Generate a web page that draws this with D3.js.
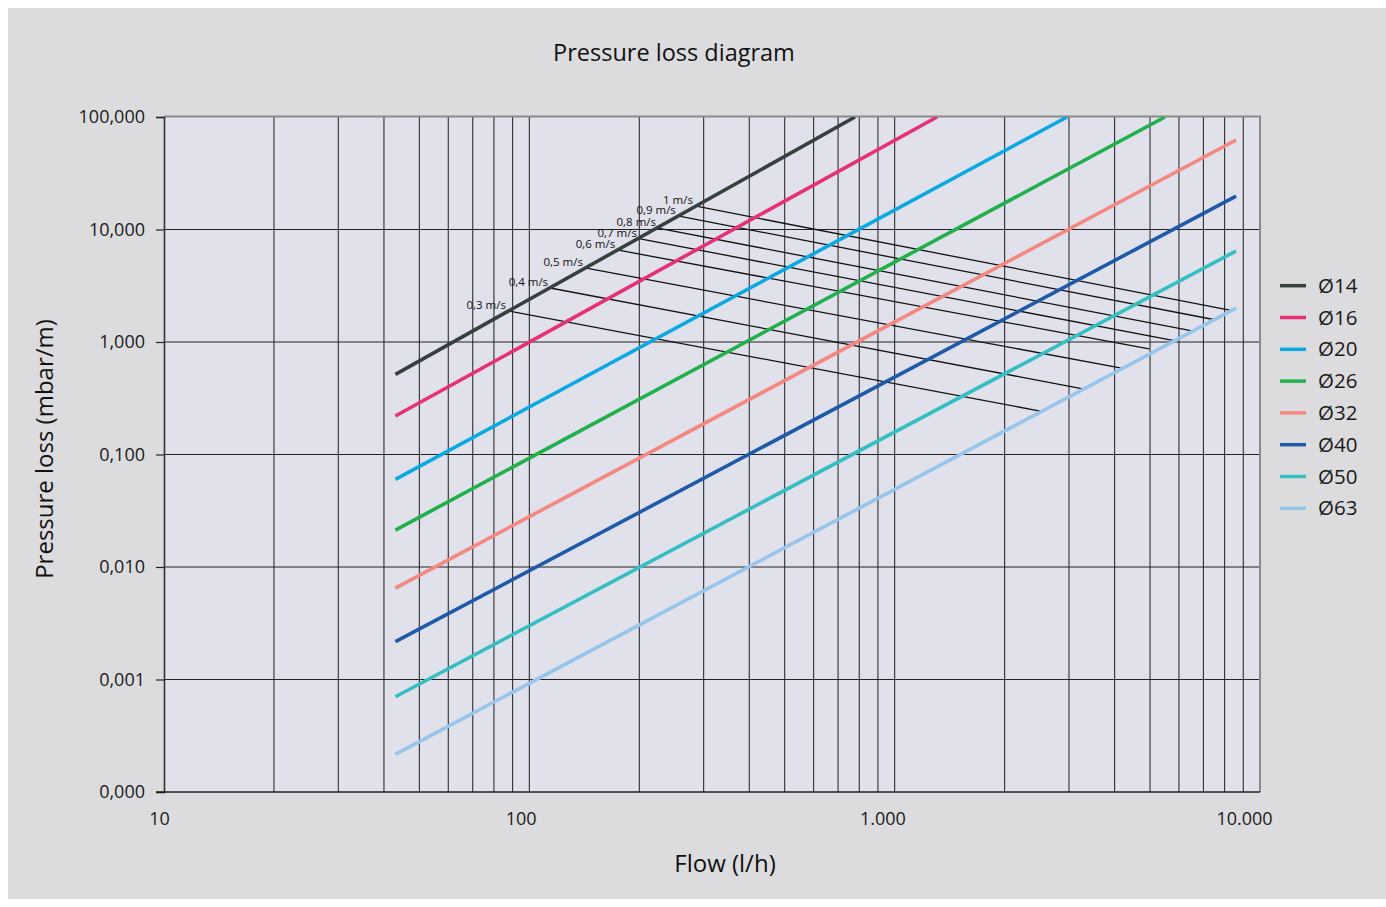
<!DOCTYPE html>
<html><head><meta charset="utf-8">
<script src="https://cdn.jsdelivr.net/npm/d3@7"></script>
<style>body{margin:0;background:#fff;} svg{display:block;}</style>
</head><body><svg id="c" width="1386" height="907"></svg>
<script>
// ---- data ----
const pipes = ["Ø14","Ø16","Ø20","Ø26","Ø32","Ø40","Ø50","Ø63"];
const pipeColors = ["#36403f","#e6317a","#0aa9e1","#21b04b","#f4877f","#1f59a8","#35bfc1","#98c6ea"];
const pipeStartFlow = [43,43,43,43,43,43,43,43];
const pipeStartLoss = [0.516,0.220,0.0602,0.0213,0.0065,0.00217,0.000703,0.000216];
const pipeEndFlow = [779,1306,2965,5496,8600,8600,8600,8600];
const pipeEndLoss = [100,100,100,100,62.5,19.8,6.44,2.0];

const velocities = ["0,3 m/s","0,4 m/s","0,5 m/s","0,6 m/s","0,7 m/s","0,8 m/s","0,9 m/s","1 m/s"];
const velStartFlow = [87.4,114,142,174,199.5,225,255,284];
const velStartLoss = [1.89,3.02,4.55,6.58,8.3,10.3,13.2,16.2];
const velEndFlow = [2500,3300,4246,4971,5821,6519,7584,8386];
const velEndLoss = [0.2435,0.382,0.579,0.867,1.027,1.253,1.569,1.897];

const yTickValues = [100,10,1,0.1,0.01,0.001,0.0001];
const yTickLabels = ["100,000","10,000","1,000","0,100","0,010","0,001","0,000"];
const xTickValues = [10,100,1000,10000];
const xTickLabels = ["10","100","1.000","10.000"];

const title = "Pressure loss diagram";
const xTitle = "Flow (l/h)";
const yTitle = "Pressure loss (mbar/m)";

// ---- layout ----
const W = 1386, H = 907;
const L = 164, R = 1260, T = 117, B = 792;
const font = "'Open Sans', 'Noto Sans', sans-serif";

const svg = d3.select("#c");
svg.append("rect").attr("x",8).attr("y",8).attr("width",W-8).attr("height",H-16).attr("fill","#dcdcde");
svg.append("rect").attr("x",L).attr("y",T).attr("width",R-L).attr("height",B-T).attr("fill","#e1e1ec");

const x = d3.scaleLog().domain([10,10000]).range([L,R]);
const xLab = d3.scaleLog().domain([10,10000]).range([159,1244]);
const y = d3.scaleLog().domain([0.0001,100]).range([B,T]);

// vertical grid lines
const minor = [];
[10,100,1000].forEach(d => { for (let k=1;k<=9;k++) minor.push(d*k); });
minor.push(10000);
svg.append("g").selectAll("line").data(minor.filter(v=>v>10 && v<10000)).join("line")
  .attr("x1",d=>x(d)).attr("x2",d=>x(d)).attr("y1",T).attr("y2",B)
  .attr("stroke","#2e2e2e").attr("stroke-width",1.1);
// horizontal grid
svg.append("g").selectAll("line").data(yTickValues.slice(1,-1)).join("line")
  .attr("x1",L).attr("x2",R).attr("y1",d=>y(d)).attr("y2",d=>y(d))
  .attr("stroke","#222").attr("stroke-width",1.1);

// frame
svg.append("line").attr("x1",L).attr("x2",R+1).attr("y1",T-0.5).attr("y2",T-0.5).attr("stroke","#8a8a8a").attr("stroke-width",2);
svg.append("line").attr("x1",R).attr("x2",R).attr("y1",T-1).attr("y2",B).attr("stroke","#8a8a8a").attr("stroke-width",2);

// y axis
const yAxis = d3.axisLeft(y).tickValues(yTickValues).tickFormat((d,i)=>yTickLabels[i]).tickSize(8).tickPadding(11);
const gy = svg.append("g").attr("transform",`translate(${L},0)`).call(yAxis);
gy.select(".domain").attr("stroke","#333").attr("stroke-width",1.6);
gy.selectAll(".tick line").attr("stroke","#222").attr("stroke-width",1.2);
gy.selectAll("text").attr("font-family",font).attr("font-size",18).attr("fill","#1a1a1a");

// bottom axis line
svg.append("line").attr("x1",L-8).attr("x2",R).attr("y1",B).attr("y2",B).attr("stroke","#222").attr("stroke-width",1.6);

// x labels
const xAxis = d3.axisBottom(xLab).tickValues(xTickValues).tickFormat((d,i)=>xTickLabels[i]).tickSize(0).tickPadding(20);
const gx = svg.append("g").attr("transform",`translate(0,${B})`).call(xAxis);
gx.select(".domain").remove();
gx.selectAll("text").attr("font-family",font).attr("font-size",18).attr("fill","#1a1a1a");

// clip
svg.append("clipPath").attr("id","plot").append("rect").attr("x",L).attr("y",T).attr("width",R-L).attr("height",B-T);

// velocity lines
const gv = svg.append("g").attr("clip-path","url(#plot)");
gv.selectAll("line").data(velocities).join("line")
  .attr("x1",(d,i)=>x(velStartFlow[i])).attr("y1",(d,i)=>y(velStartLoss[i]))
  .attr("x2",(d,i)=>x(velEndFlow[i])).attr("y2",(d,i)=>y(velEndLoss[i]))
  .attr("stroke","#111").attr("stroke-width",1.3);

// pipe lines
const gp = svg.append("g").attr("clip-path","url(#plot)");
gp.selectAll("line").data(pipes).join("line")
  .attr("x1",(d,i)=>x(pipeStartFlow[i])).attr("y1",(d,i)=>y(pipeStartLoss[i]))
  .attr("x2",(d,i)=>x(pipeEndFlow[i])).attr("y2",(d,i)=>y(pipeEndLoss[i]))
  .attr("stroke",(d,i)=>pipeColors[i]).attr("stroke-width",3.6);

// velocity labels
svg.append("g").selectAll("text").data(velocities).join("text")
  .attr("x",(d,i)=>x(velStartFlow[i])-2).attr("y",(d,i)=>y(velStartLoss[i])-2)
  .attr("text-anchor","end").attr("font-family",font).attr("font-size",11.5).attr("fill","#111")
  .text(d=>d);

// legend
const lg = svg.append("g");
pipes.forEach((p,i)=>{
  const cy = 285.7 + i*31.8;
  lg.append("line").attr("x1",1280).attr("x2",1306).attr("y1",cy).attr("y2",cy).attr("stroke",pipeColors[i]).attr("stroke-width",3.5);
  lg.append("text").attr("x",1318).attr("y",cy+7).attr("font-family",font).attr("font-size",20.5).attr("fill","#1a1a1a").text(p);
});

// titles
svg.append("text").attr("x",674).attr("y",61).attr("text-anchor","middle").attr("font-family",font).attr("font-size",23.5).attr("fill","#111").text(title);
svg.append("text").attr("x",725).attr("y",872).attr("text-anchor","middle").attr("font-family",font).attr("font-size",24).attr("fill","#111").text(xTitle);
svg.append("text").attr("transform","translate(53,449) rotate(-90)").attr("text-anchor","middle").attr("font-family",font).attr("font-size",24).attr("fill","#111").text(yTitle);
</script>
</body></html>
